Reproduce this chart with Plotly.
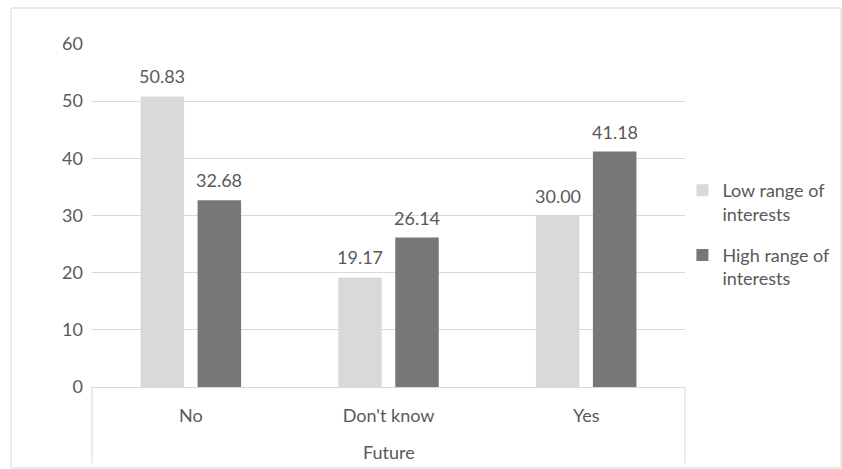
import plotly.graph_objects as go

answers = ["No", "Don't know", "Yes"]
group_title = "Future"
low_range = [50.83, 19.17, 30.00]
high_range = [32.68, 26.14, 41.18]
series_names = ["Low range of<br>interests", "High range of<br>interests"]
y_ticks = [0, 10, 20, 30, 40, 50, 60]

TEXT = "#595959"
LINE = "#d9d9d9"
FONT = "Lato"
FS = 18

fig = go.Figure()
fig.add_trace(go.Bar(x=answers, y=low_range, name=series_names[0], legendgroup="low",
                     marker=dict(color="#d9d9d9", line=dict(width=0))))
fig.add_trace(go.Bar(x=answers, y=high_range, name=series_names[1], legendgroup="high",
                     marker=dict(color="#777777", line=dict(width=0))))

# value labels above each bar
for vals, shift in ((low_range, -28.5), (high_range, 28.5)):
    for a, v in zip(answers, vals):
        fig.add_annotation(x=a, y=v, text=f"{v:.2f}", showarrow=False,
                           xshift=shift, yshift=20, font=dict(size=FS, color=TEXT, family=FONT))

# outer category label below the answers
fig.add_annotation(x=0.5, y=-0.19, xref="paper", yref="paper", text=group_title,
                   xanchor="center", yanchor="middle", showarrow=False,
                   font=dict(size=FS, color=TEXT, family=FONT))

fig.update_layout(
    width=842, height=469,
    margin=dict(l=92, r=157, t=44, b=82, autoexpand=False),
    paper_bgcolor="white", plot_bgcolor="white",
    barmode="group", bargap=0.423, bargroupgap=0.237,
    font=dict(family=FONT, size=FS, color=TEXT),
    legend=dict(x=0.8105, xanchor="left", y=0.5, yanchor="middle", xref="container",
                yref="container", valign="top",
                font=dict(size=FS, color=TEXT, family=FONT), itemwidth=30,
                tracegroupgap=15, bgcolor="rgba(0,0,0,0)"),
    xaxis=dict(type="category", showline=True, linecolor=LINE, linewidth=1,
               showgrid=False, ticks="", ticklabelstandoff=12,
               tickfont=dict(size=FS, color=TEXT, family=FONT)),
    yaxis=dict(range=[0, 60], tickvals=y_ticks, showgrid=True, gridcolor=LINE,
               gridwidth=1, zeroline=False, showline=False, ticks="",
               tickfont=dict(size=FS, color=TEXT, family=FONT), ticklabelstandoff=8),
    shapes=[
        dict(type="rect", xref="paper", yref="paper", x0=-0.1366, x1=1.263,
             y0=-0.236, y1=1.105, line=dict(color=LINE, width=1), layer="below"),
        dict(type="line", xref="paper", yref="paper", x0=0, x1=0, y0=0, y1=-0.222,
             line=dict(color=LINE, width=1)),
        dict(type="line", xref="paper", yref="paper", x0=1, x1=1, y0=0, y1=-0.222,
             line=dict(color=LINE, width=1)),
    ],
)

fig.write_html("out.html")
